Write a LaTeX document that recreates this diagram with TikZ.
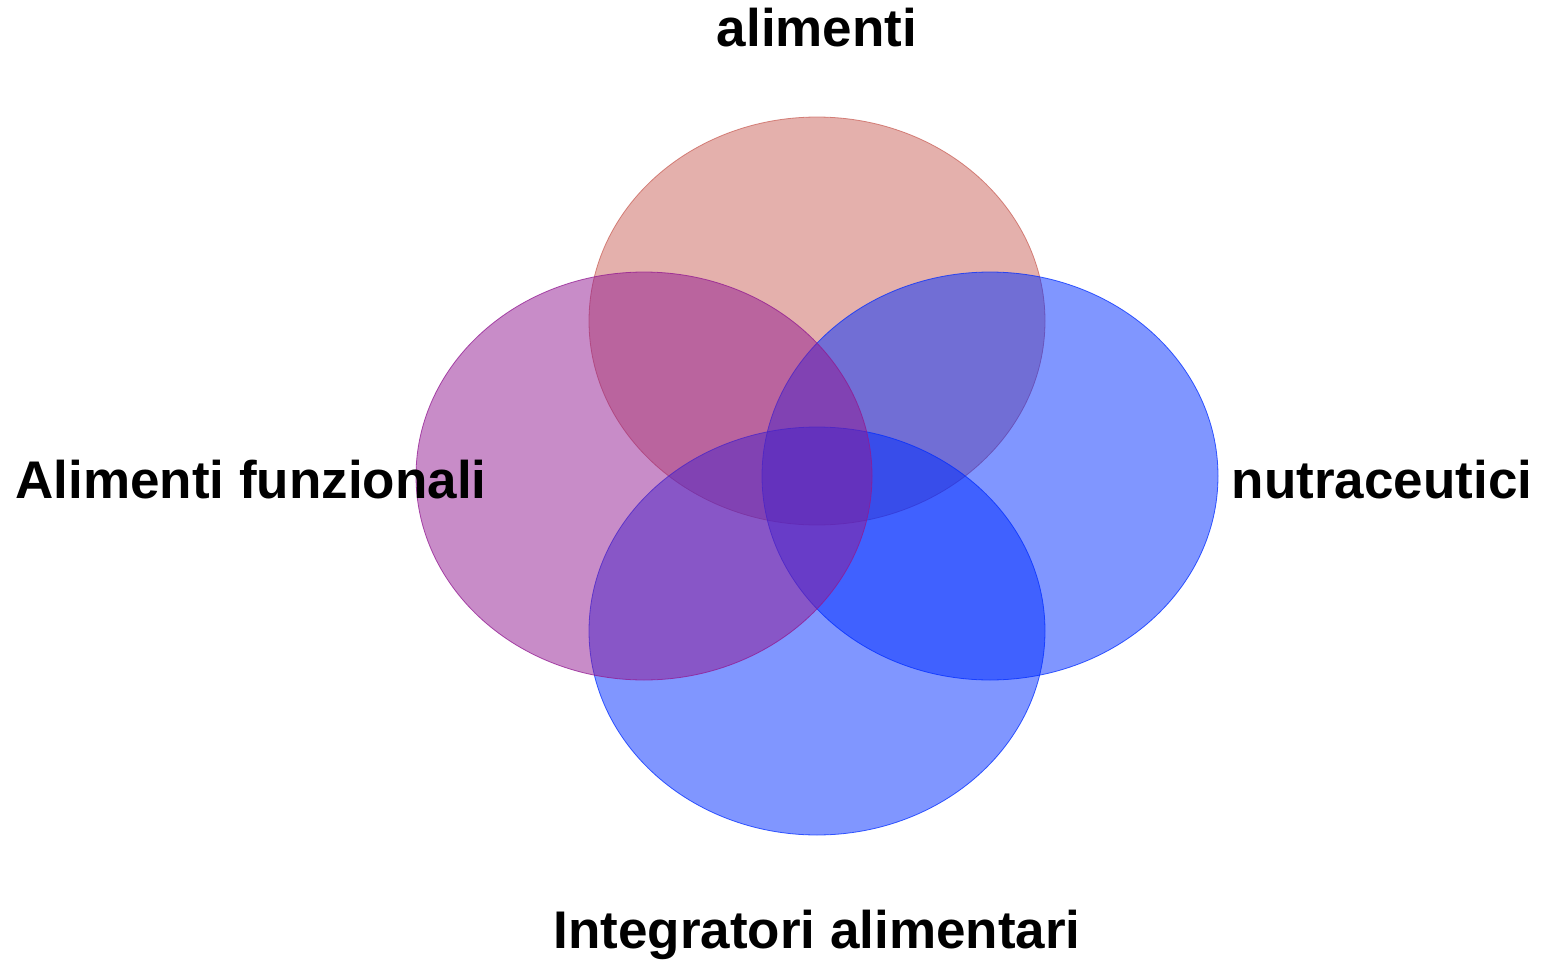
\documentclass[tikz,border=0pt]{standalone}
\usepackage{fontspec}
\setmainfont{Liberation Sans}
\definecolor{ctop}{RGB}{201,97,89}
\definecolor{cleft}{RGB}{145,25,145}
\definecolor{cblue}{RGB}{1,45,255}
\tikzset{
  venn/.style={line width=0.8pt, fill opacity=0.5, draw opacity=0.75},
  lbl/.style={anchor=base, font=\fontsize{53}{60}\selectfont\bfseries, inner sep=0pt}
}
\begin{document}
\begin{tikzpicture}[x=1pt,y=-1pt]
\useasboundingbox (0,0) rectangle (1543,961);
\path[venn, fill=ctop, draw=ctop] (817,321) ellipse [x radius=228, y radius=204];
\path[venn, fill=cblue, draw=cblue] (990,476) ellipse [x radius=228, y radius=204];
\path[venn, fill=cblue, draw=cblue] (817,631) ellipse [x radius=228, y radius=204];
\path[venn, fill=cleft, draw=cleft] (644,476) ellipse [x radius=228, y radius=204];
\node[lbl] (t) at (817,46) {alimenti};
\node[lbl] (l) at (251,498) {Alimenti funzionali};
\node[lbl] (r) at (1382,498) {nutraceutici};
\node[lbl] (b) at (817,948) {Integratori alimentari};
\end{tikzpicture}
\end{document}
